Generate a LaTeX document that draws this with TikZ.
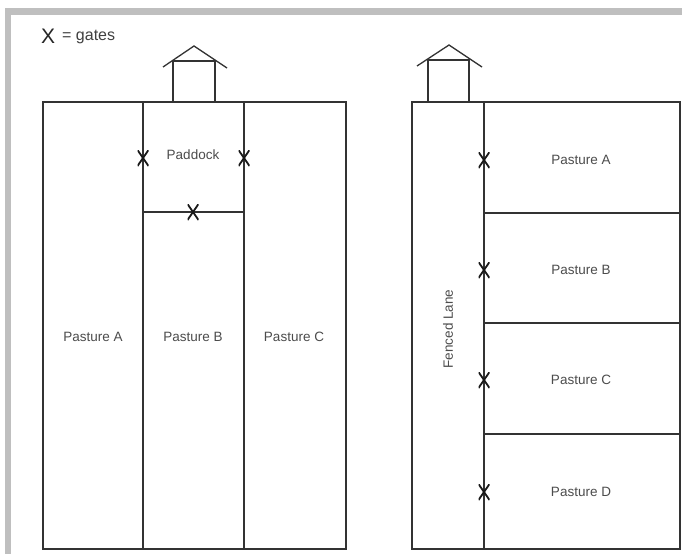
\documentclass[tikz,border=0pt]{standalone}
\usepackage{fontspec}
\setmainfont{Liberation Sans}
\begin{document}
\begin{tikzpicture}[x=1pt,y=-1pt,
  fence/.style={draw=black!80,line width=1.3pt},
  lbl/.style={text=black!70,font=\fontsize{13.5}{15}\selectfont,inner sep=0pt},
  gate/.style={minimum width=11pt,minimum height=16pt,inner sep=0pt,
    path picture={\draw[line width=1.8pt,black!90]
      (path picture bounding box.south west) -- (path picture bounding box.north east)
      (path picture bounding box.north west) -- (path picture bounding box.south east);}}]
\useasboundingbox (0,0) rectangle (682,554);
\fill[white] (0,0) rectangle (682,554);
% gray partial frame
\fill[black!25] (5,8) rectangle (682,15);
\fill[black!25] (5,8) rectangle (11,554);
% legend
\node[text=black!85,font=\fontsize{21}{21}\selectfont,inner sep=0pt,anchor=west] (lx) at (41,36) {X};
\node[text=black!75,font=\fontsize{16}{17}\selectfont,inner sep=0pt,anchor=west] (lg) at (62,37) {= gates};
% ---------------- left plan
\draw[fence] (43,102) rectangle (346,549);
\draw[fence] (143,102) -- (143,549);
\draw[fence] (244,102) -- (244,549);
\draw[fence] (143,212) -- (244,212);
% shed left
\draw[fence] (173,102) -- (173,61) -- (215,61) -- (215,102);
\draw[fence] (163,67) -- (194,46) -- (227,68);
\node[lbl] (pad) at (193,155) {Paddock};
\node[lbl] (pa1) at (93,337) {Pasture A};
\node[lbl] (pb1) at (193,337) {Pasture B};
\node[lbl] (pc1) at (294,337) {Pasture C};
\node[gate] (g1) at (143,158) {};
\node[gate] (g2) at (244,158) {};
\node[gate] (g3) at (193,212) {};
% ---------------- right plan
\draw[fence] (412,102) rectangle (680,549);
\draw[fence] (484,102) -- (484,549);
\draw[fence] (484,213) -- (680,213);
\draw[fence] (484,323) -- (680,323);
\draw[fence] (484,434) -- (680,434);
% shed right
\draw[fence] (428,102) -- (428,60) -- (469,60) -- (469,102);
\draw[fence] (417,66) -- (449,45) -- (482,67);
\node[lbl,rotate=90] (lane) at (448,329) {Fenced Lane};
\node[lbl] (pa2) at (581,160) {Pasture A};
\node[lbl] (pb2) at (581,270) {Pasture B};
\node[lbl] (pc2) at (581,380) {Pasture C};
\node[lbl] (pd2) at (581,492) {Pasture D};
\node[gate] (h1) at (484,160) {};
\node[gate] (h2) at (484,270) {};
\node[gate] (h3) at (484,380) {};
\node[gate] (h4) at (484,492) {};
\end{tikzpicture}
\end{document}
